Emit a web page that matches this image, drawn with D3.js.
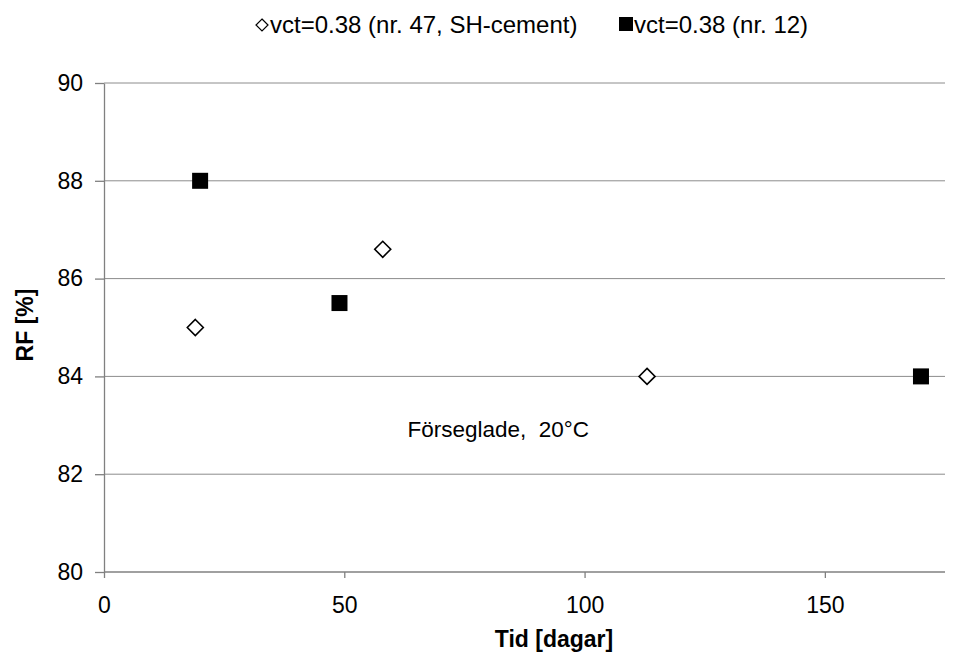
<!DOCTYPE html>
<html><head><meta charset="utf-8">
<script src="https://cdn.jsdelivr.net/npm/d3@7"></script>
<style>body{margin:0;background:#fff;}text{font-family:"Liberation Sans",Arial,sans-serif;white-space:pre;}</style>
</head><body>
<svg id="c" width="958" height="655"></svg>
<script>
const seriesNames = ["vct=0.38 (nr. 47, SH-cement)", "vct=0.38 (nr. 12)"];
const diamondX = [19, 58, 113];
const diamondY = [85, 86.6, 84];
const squareX = [20, 49, 170];
const squareY = [88, 85.5, 84];
const xTicks = [0, 50, 100, 150];
const yTicks = [80, 82, 84, 86, 88, 90];
const xTitle = "Tid [dagar]";
const yTitle = "RF [%]";
const note = "Förseglade,  20°C";

const svg = d3.select("#c");
const L = 104, R = 945, T = 83, B = 572;
const x = d3.scaleLinear().domain([0, 175]).range([L, R]);
const y = d3.scaleLinear().domain([80, 90]).range([B, T]);

// gridlines
svg.append("g").selectAll("line").data(yTicks.filter(d => d > 80)).join("line")
  .attr("x1", L).attr("x2", R).attr("y1", d => y(d)).attr("y2", d => y(d))
  .attr("stroke", "#8c8c8c").attr("stroke-width", 1);

const xAxis = svg.append("g").attr("transform", `translate(0,${B})`)
  .call(d3.axisBottom(x).tickValues(xTicks).tickSize(6).tickSizeOuter(0).tickPadding(19));
const yAxis = svg.append("g").attr("transform", `translate(${L},0)`)
  .call(d3.axisLeft(y).tickValues(yTicks).tickSize(9).tickSizeOuter(0).tickPadding(12));
[xAxis, yAxis].forEach(a => {
  a.select(".domain").attr("stroke", "#808080").attr("stroke-width", 1.3);
  a.selectAll(".tick line").attr("stroke", "#808080").attr("stroke-width", 1.3);
  a.selectAll(".tick text").attr("font-size", 23).attr("fill", "#000")
    .attr("font-family", '"Liberation Sans",Arial,sans-serif');
});
xAxis.select(".domain").attr("d", `M${L},0H${R}`);

// titles
svg.append("text").attr("x", 554).attr("y", 647).attr("text-anchor", "middle")
  .attr("font-size", 23).attr("font-weight", "bold").text(xTitle);
svg.append("text").attr("transform", `translate(33,325) rotate(-90)`).attr("text-anchor", "middle")
  .attr("font-size", 23).attr("font-weight", "bold").text(yTitle);

// note
svg.append("text").attr("x", x(82.05)).attr("y", y(82.77)).attr("text-anchor", "middle")
  .attr("xml:space", "preserve").attr("font-size", 22.5).text(note);

// markers
const diamond = (cx, cy, r) => `M${cx},${cy - r}L${cx + r},${cy}L${cx},${cy + r}L${cx - r},${cy}Z`;
svg.append("g").selectAll("path").data(diamondX.map((d, i) => [d, diamondY[i]])).join("path")
  .attr("d", d => diamond(x(d[0]), y(d[1]), 8))
  .attr("fill", "#fff").attr("stroke", "#000").attr("stroke-width", 1.6);
svg.append("g").selectAll("rect").data(squareX.map((d, i) => [d, squareY[i]])).join("rect")
  .attr("x", d => x(d[0]) - 8).attr("y", d => y(d[1]) - 8).attr("width", 16).attr("height", 16)
  .attr("fill", "#000");

// legend
const lg = svg.append("g");
lg.append("path").attr("d", diamond(262, 25, 6)).attr("fill", "#fff").attr("stroke", "#000").attr("stroke-width", 1.2);
lg.append("text").attr("x", 270).attr("y", 33).attr("font-size", 24).text(seriesNames[0]);
lg.append("rect").attr("x", 619).attr("y", 17).attr("width", 14).attr("height", 14).attr("fill", "#000");
lg.append("text").attr("x", 634).attr("y", 33).attr("font-size", 24).text(seriesNames[1]);
</script>
</body></html>
